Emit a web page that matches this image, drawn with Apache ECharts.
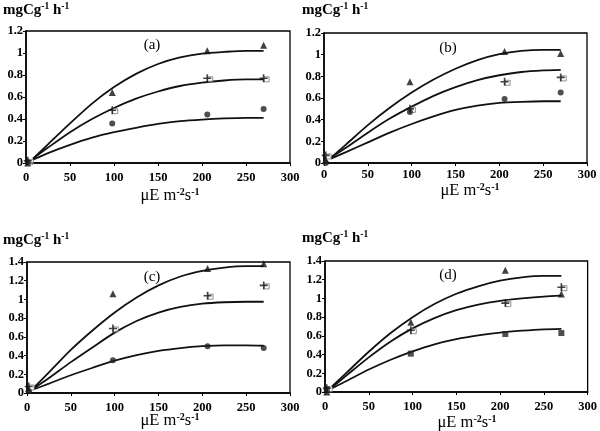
<!DOCTYPE html>
<html>
<head>
<meta charset="utf-8">
<script src="https://cdn.jsdelivr.net/npm/echarts@6/dist/echarts.min.js"></script>
<style>html,body{margin:0;padding:0;background:#fff}#c{width:600px;height:431px}</style>
</head>
<body>
<div id="c"></div>
<script>
// ---- data ----
const xPoints = [2, 98, 206, 270];
const xFit = [8, 25, 50, 75, 100, 125, 150, 175, 200, 225, 250, 270];
const xTicks = [0, 50, 100, 150, 200, 250, 300];
const yMaxTop = 1.2;
const yMaxBottom = 1.4;
const panelLabels = ['(a)', '(b)', '(c)', '(d)'];

// panel (a)
const aTri   = [0.00, 0.64, 1.02, 1.07];
const aCross = [0.02, 0.48, 0.77, 0.77];
const aDot   = [0.01, 0.36, 0.44, 0.49];
const aFitTop = [0.04, 0.17, 0.36, 0.54, 0.69, 0.81, 0.90, 0.96, 0.995, 1.01, 1.02, 1.02];
const aFitMid = [0.04, 0.14, 0.28, 0.40, 0.50, 0.585, 0.65, 0.70, 0.73, 0.75, 0.76, 0.76];
const aFitLow = [0.03, 0.09, 0.165, 0.23, 0.28, 0.32, 0.355, 0.38, 0.395, 0.405, 0.41, 0.41];

// panel (b)
const bTri   = [0.03, 0.75, 1.03, 1.01];
const bCross = [0.07, 0.50, 0.75, 0.79];
const bDot   = [0.00, 0.47, 0.59, 0.65];
const bFitTop = [0.05, 0.17, 0.35, 0.51, 0.65, 0.77, 0.87, 0.95, 1.005, 1.035, 1.045, 1.045];
const bFitMid = [0.05, 0.14, 0.28, 0.41, 0.52, 0.62, 0.70, 0.765, 0.81, 0.84, 0.855, 0.86];
const bFitLow = [0.04, 0.10, 0.19, 0.28, 0.36, 0.43, 0.49, 0.53, 0.555, 0.565, 0.57, 0.57];

// panel (c)
const cTri   = [0.05, 1.06, 1.33, 1.38];
const cCross = [0.07, 0.69, 1.04, 1.15];
const cDot   = [0.02, 0.35, 0.50, 0.48];
const cFitTop = [0.06, 0.22, 0.46, 0.67, 0.86, 1.02, 1.15, 1.245, 1.305, 1.34, 1.355, 1.355];
const cFitMid = [0.05, 0.16, 0.33, 0.49, 0.645, 0.77, 0.86, 0.92, 0.955, 0.97, 0.975, 0.975];
const cFitLow = [0.04, 0.10, 0.19, 0.27, 0.345, 0.405, 0.45, 0.48, 0.50, 0.51, 0.51, 0.505];

// panel (d)
const dTri   = [0.00, 0.745, 1.30, 1.047];
const dCross = [0.04, 0.66, 0.95, 1.12];
const dDot   = [0.03, 0.41, 0.62, 0.63];
const dFitTop = [0.06, 0.21, 0.43, 0.63, 0.80, 0.94, 1.05, 1.13, 1.19, 1.225, 1.24, 1.24];
const dFitMid = [0.05, 0.18, 0.37, 0.54, 0.68, 0.79, 0.875, 0.935, 0.975, 1.00, 1.02, 1.03];
const dFitLow = [0.04, 0.12, 0.24, 0.345, 0.435, 0.51, 0.565, 0.605, 0.635, 0.655, 0.67, 0.675];

// ---- build ----
const FONT = '"Liberation Serif", "Times New Roman", serif';
const panels = [
  {tri: aTri, cross: aCross, dot: aDot, fits: [aFitTop, aFitMid, aFitLow], ymax: yMaxTop, dotSym: 'circle',
   grid: {left: 26, top: 31, width: 264, height: 132}, xm: 8},
  {tri: bTri, cross: bCross, dot: bDot, fits: [bFitTop, bFitMid, bFitLow], ymax: yMaxTop, dotSym: 'circle',
   grid: {left: 324, top: 33, width: 263, height: 130}, xm: 5},
  {tri: cTri, cross: cCross, dot: cDot, fits: [cFitTop, cFitMid, cFitLow], ymax: yMaxBottom, dotSym: 'circle',
   grid: {left: 27, top: 262, width: 263, height: 131}, xm: 8},
  {tri: dTri, cross: dCross, dot: dDot, fits: [dFitTop, dFitMid, dFitLow], ymax: yMaxBottom, dotSym: 'rect',
   grid: {left: 325, top: 261, width: 264, height: 131}, xm: 8}
];

const pair = (xs, ys) => xs.map((x, i) => [x, ys[i]]);
const PLUS = 'path://M4,0h2v4h4v2h-4v4h-2v-4h-4v-2h4z';

const grids = [], xAxes = [], yAxes = [], series = [];
panels.forEach((p, i) => {
  grids.push(Object.assign({show: true, borderColor: '#000', borderWidth: 1.3, backgroundColor: 'transparent'}, p.grid));
  xAxes.push({
    gridIndex: i, type: 'value', min: 0, max: 300, interval: 50,
    axisLine: {show: true, onZero: false, lineStyle: {color: '#000', width: 1.5}},
    axisTick: {show: true, length: 3, lineStyle: {color: '#000', width: 1}},
    splitLine: {show: false},
    axisLabel: {color: '#000', fontFamily: FONT, fontWeight: 'bold', fontSize: 12.5, margin: p.xm}
  });
  yAxes.push({
    gridIndex: i, type: 'value', min: 0, max: p.ymax, interval: 0.2,
    axisLine: {show: true, lineStyle: {color: '#000', width: 1.5}},
    axisTick: {show: true, length: 3, lineStyle: {color: '#000', width: 1}},
    splitLine: {show: false},
    axisLabel: {color: '#000', fontFamily: FONT, fontWeight: 'bold', fontSize: 12.5, margin: 3,
      formatter: v => String(Math.round(v * 10) / 10)}
  });
  p.fits.forEach(f => series.push({
    type: 'line', xAxisIndex: i, yAxisIndex: i, data: pair(xFit, f), smooth: 0.25,
    showSymbol: false, lineStyle: {color: '#111', width: 1.8}, silent: true, z: 2
  }));
  series.push({type: 'scatter', xAxisIndex: i, yAxisIndex: i, data: pair(xPoints, p.tri),
    symbol: 'triangle', symbolSize: 7, itemStyle: {color: '#111'}, z: 3});
  series.push({type: 'scatter', xAxisIndex: i, yAxisIndex: i, data: pair(xPoints, p.cross),
    symbol: 'rect', symbolSize: 5, symbolOffset: [3, 1],
    itemStyle: {color: 'rgba(255,255,255,0.6)', borderColor: '#777', borderWidth: 1}, z: 3});
  series.push({type: 'scatter', xAxisIndex: i, yAxisIndex: i, data: pair(xPoints, p.cross),
    symbol: PLUS, symbolSize: 8, itemStyle: {color: '#111'}, z: 4});
  series.push({type: 'scatter', xAxisIndex: i, yAxisIndex: i, data: pair(xPoints, p.dot),
    symbol: p.dotSym, symbolSize: 6, itemStyle: {color: '#222'}, z: 3});
});

const unitRich = {
  a: {fontFamily: FONT, fontWeight: 'bold', fontSize: 15, lineHeight: 17, fill: '#000', color: '#000'},
  s: {fontFamily: FONT, fontWeight: 'bold', fontSize: 9.5, lineHeight: 10, verticalAlign: 'top', fill: '#000', color: '#000'}
};
const axRich = {
  a: {fontFamily: FONT, fontSize: 16.5, lineHeight: 18, fill: '#000', color: '#000'},
  s: {fontFamily: FONT, fontWeight: 'bold', fontSize: 10, lineHeight: 10, verticalAlign: 'top', fill: '#000', color: '#000'}
};
const yUnitPos = [[3, 2], [302, 2], [3, 232], [302, 230]];
const xUnitPos = [[170, 187], [470, 182], [170, 412], [467, 414]];
const labelPos = [[152, 45], [448, 48], [152, 277], [448, 275]];
const graphic = [];
for (let i = 0; i < 4; i++) {
  graphic.push({type: 'text', left: yUnitPos[i][0], top: yUnitPos[i][1],
    style: {text: '{a|mgCg}{s|-1}{a| h}{s|-1}', rich: unitRich}});
  graphic.push({type: 'text', x: xUnitPos[i][0], y: xUnitPos[i][1],
    style: {text: '{a|\u03bcE m}{s|-2}{a|s}{s|-1}', rich: axRich, align: 'center', textAlign: 'center'}});
  graphic.push({type: 'text', x: labelPos[i][0], y: labelPos[i][1],
    style: {text: panelLabels[i], font: '15px ' + FONT, fill: '#000', align: 'center', textAlign: 'center', verticalAlign: 'middle', textVerticalAlign: 'middle'}});
}

const chart = echarts.init(document.getElementById('c'), null, {renderer: 'canvas'});
chart.setOption({
  animation: false,
  backgroundColor: '#fff',
  grid: grids, xAxis: xAxes, yAxis: yAxes, series: series, graphic: graphic
});
</script>
</body>
</html>
